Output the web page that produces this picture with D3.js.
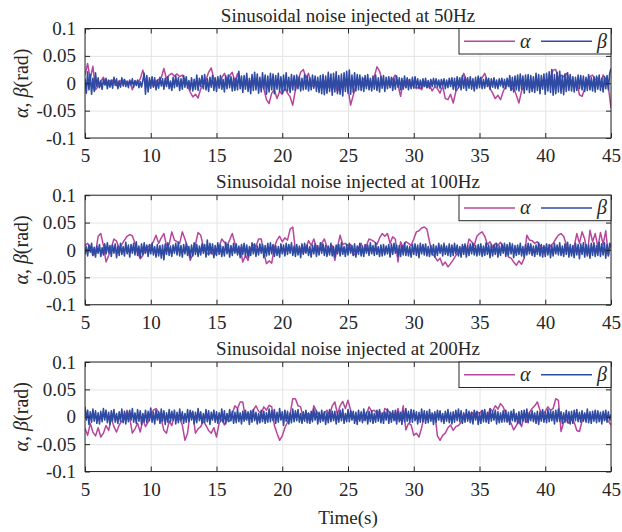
<!DOCTYPE html>
<html>
<head>
<meta charset="utf-8">
<script src="https://cdnjs.cloudflare.com/ajax/libs/d3/7.8.5/d3.min.js"></script>
<style>
body { margin: 0; background: #fff; }
text { font-family: "Liberation Serif", "Times New Roman", serif; fill: #262626; }
</style>
</head>
<body>
<svg id="viz" width="622" height="532"></svg>
<script>
// values, in mrad (0.001 rad)
var titles = ["Sinusoidal noise injected at 50Hz",
              "Sinusoidal noise injected at 100Hz",
              "Sinusoidal noise injected at 200Hz"];
var xTicks = [5, 10, 15, 20, 25, 30, 35, 40, 45];
var yTicks = [-0.1, -0.05, 0, 0.05, 0.1];
var yTickLabels = ["-0.1", "-0.05", "0", "0.05", "0.1"];
var seriesNames = ["\u03b1", "\u03b2"];

// alpha: one value every 0.2 s from 5 s to 45 s
var alpha50 = [
  15, 36, 8, 31, -12,   -6, 4, 11, -3, 6,   2, 8, -4, 5, 3,   6, -2, 4, -12, 3,
  1, 8, 24, 3, -4,   5, -6, 3, 7, 10,   27, 8, 15, 18, 13,   17, 12, 15, 6, -4,
  -16, -25, -20, -27, -10,   -3, 6, 20, 28, 8,   2, -4, 10, 18, 6,   14, 20, 3, 18, -2,
  -6, 3, -8, 4, -3,   5, -5, 2, -10, -30,   -37, -18, -12, -28, -15,   -20, -8, -18, -25, -40,
  -12, 5, 20, 25, 10,   18, -3, -6, 2, -5,   -8, 4, -10, -3, -12,   2, -15, -6, -8, 4,
  -10, -40, -22, -5, 6,   -3, 8, -6, 4, -8,   12, 30, 22, 6, -4,   3, -6, 8, 15, -3,
  -24, 4, -8, 6, -5,   -3, -10, -6, -12, 2,   -8, -4, -14, -6, -10,   -18, -5, -28, -30, -20,
  -36, -15, -8, 4, 18,   6, -4, 3, -6, 2,   8, 10, 18, 4, -10,   -18, -28, -22, -30, -15,
  -5, 2, -12, -8, -22,   -36, -14, -4, 3, -6,   -10, -3, 5, -8, 2,   6, -4, 10, 24, 25,
  8, 15, 12, 18, 10,   4, -8, 2, -21, -24,   -10, 5, 12, 15, 6,   10, -3, 15, 8, -6,
  -45
];
var alpha100 = [
  8, 12, 6, -10, -6,   25, 30, 8, -22, -10,   4, 20, 16, 3, 10,   18, 25, 28, 26, 12,
  -5, -16, -10, 2, 6,   8, 15, 27, 12, 22,   30, 8, 10, 33, 18,   15, 12, 33, 20, 5,
  -19, -8, 10, 32, 27,   6, -5, -8, -3, -10,   -4, 6, 20, 14, 8,   18, 30, 12, -6, 4,
  -22, -10, -19, 3, 10,   6, 20, 20, -5, -25,   -20, -24, 5, 18, 25,   15, 22, 18, 38, 42,
  0, -5, 3, -6, 4,   17, 8, 20, 5, -4,   12, 20, 6, -3, 8,   -19, 5, 27, 10, 12,
  8, 10, -10, -6, 4,   12, -3, 8, 20, 18,   15, 10, 22, 30, 25,   30, 12, 24, 20, -22,
  15, 5, 15, 12, 8,   20, 33, 35, 40, 42,   38, 15, -7, -12, -20,   -15, -28, -22, -31, -25,
  -18, -10, -5, 3, 6,   -2, 20, 15, 8, 25,   30, 33, 25, 10, 15,   5, 12, 8, 14, 6,
  3, -13, -15, -22, -28,   -20, -26, -15, 27, 18,   17, 12, 15, 8, 3,   5, -4, 8, 12, 20,
  27, 30, 25, 10, 2,   -5, 6, 30, 12, 33,   20, -8, 36, 15, 30,   5, 32, 10, 35, -10,
  12
];
var alpha200 = [
  -21, -34, -12, -28, -35,   -20, -37, -30, -16, -25,   -3, -18, -28, -15, -8,   -4, 12, -2, -30, -22,
  -12, -28, -5, -18, -10,   3, 12, 15, 8, -5,   -25, -30, -8, -16, 2,   -5, -3, -15, -43, -30,
  8, 5, -30, -22, -18,   -8, -16, -25, -30, -20,   -37, -12, -5, -15, -3,   -8, 5, 20, 15, 27,
  27, -4, 2, 6, 12,   20, 10, 6, 18, 12,   21, 18, -16, -30, -43,   -35, -20, -10, 5, 33,
  33, 20, 18, -4, 3,   6, -5, 20, 10, 2,   -3, 6, 12, 2, 20,   27, 5, 20, 28, 15,
  30, 12, 0, -7, -4,   3, -6, 5, 18, 10,   12, 6, 10, -3, 15,   12, 8, 3, -6, 15,
  -6, 20, -24, -12, -15,   -34, -30, -37, -20, 2,   -5, 3, -2, 6, -35,   -43, -34, -30, -20, -15,
  -25, -18, -16, -10, 2,   5, -4, 8, 3, 9,   6, 12, 3, -2, 15,   10, 20, 14, 24, 18,
  6, -6, -12, -24, -16,   -8, -18, 4, -10, 8,   15, 20, 27, 12, 5,   10, 18, 12, 15, 33,
  30, -27, -10, -5, -12,   -4, -10, -25, -27, -8,   3, 5, -5, 2, -3,   4, -2, 3, -5, -8,
  -15
];

// beta: one value every 0.1 s from 5 s to 45 s
var beta50 = [
  8, -18, 21, -12, 16, -20, 9, -15, 19, -6,   10, -8, 4, -11, 7, -3, 9, -10, 5, -7,
  6, -9, 11, -4, 8, -10, 3, -7, 10, -5,   7, -6, 4, -8, 6, -3, 8, -7, 5, -4,
  6, -8, 3, -7, 5, 18, -20, 14, -16, 10,   -9, 12, -7, 10, -12, 6, -9, 11, -5, 8,
  -11, 9, -6, 12, -10, 4, -13, 11, -8, 13,   -6, 10, -13, 8, -11, 14, -7, 12, -9, 5,
  -12, 10, -14, 7, -11, 15, -13, 9, -6, 14,   -10, 16, -12, 8, -15, 11, -7, 14, -13, 10,
  -15, 12, -9, 14, -11, 7, -16, 13, -10, 15,   -8, 12, -14, 10, -13, 9, -12, 22, -10, 13,
  -17, 14, -11, 18, -15, 9, -19, 16, -13, 20,   -12, 17, -18, 11, -16, 19, -10, 15, -20, 13,
  -16, 18, -12, 17, -19, 14, -11, 18, -15, 12,   -18, 15, -13, 19, -14, 11, -17, 16, -12, 14,
  -13, 15, -10, 12, -14, 9, -12, 16, -11, 13,   -14, 10, -12, 15, -9, 13, -15, 11, -17, 14,
  -19, 16, -21, 13, -18, 20, -15, 17, -22, 18,   -16, 21, -19, 14, -20, 17, -23, 19, -15, 22,
  -18, 24, -20, 15, -17, 19, -14, 16, -12, 15,   -13, 11, -15, 14, -10, 16, -12, 9, -14, 13,
  -11, 15, -13, 10, -16, 12, -9, 14, -15, 11,   -10, 12, -8, 11, -13, 9, -11, 13, -7, 10,
  -12, 9, -11, 13, -8, 10, -12, 7, -10, 11,   -9, 12, -7, 8, -10, 6, -9, 8, -6, 9,
  -8, 5, -9, 7, -6, 9, -5, 8, -7, 6,   -9, 7, -5, 8, -10, 6, -8, 9, -6, 10,
  -11, 9, -13, 12, -8, 10, -12, 14, -9, 11,   -13, 10, -9, 12, -11, 8, -14, 11, -10, 13,
  -8, 11, -10, 7, -9, 10, -6, 9, -11, 8,   -7, 10, -9, 6, -10, 8, -5, 9, -8, 7,
  -10, 9, -6, 14, -13, 11, -16, 13, -12, 15,   -14, 17, -11, 13, -18, 15, -12, 16, -17, 14,
  -15, 12, -17, 18, -13, 16, -19, 14, -11, 17,   -20, 18, -14, 21, -17, 25, -22, 16, -19, 20,
  -16, 22, -18, 14, -21, 17, -15, 19, -13, 16,   -14, 12, -16, 11, -13, 15, -10, 14, -12, 13,
  -15, 11, -13, 16, -12, 10, -14, 12, -16, 13,   -11, 15, -13, 9, -16, 12, -10, 14, -12, 18,
  27
];
var beta100 = [
  -8, 6, -11, 9, -4, 12, -10, 5, -13, 7,   -6, 10, -12, 4, -9, 11, -7, 13, -5, 8,
  -12, 9, -6, 11, -14, 7, -10, 12, -8, 6,   -11, 14, -7, 9, -13, 10, -6, 12, -9, 15,
  -10, 7, -14, 11, -8, 13, -6, 9, -12, 10,   -7, 12, -9, 6, -13, 10, -11, 8, -15, 9,
  -18, 11, -8, 13, -10, 7, -12, 9, -6, 12,   -9, 14, -11, 8, -13, 10, -7, 12, -10, 6,
  -14, 9, -11, 13, -8, 10, -12, 7, -9, 11,   -6, 10, -13, 18, -9, 12, -7, 11, -14, 8,
  -10, 13, -8, 9, -12, 6, -11, 14, -7, 10,   -13, 8, -10, 12, -6, 11, -9, 7, -14, 10,
  -8, 12, -11, 9, -13, 6, -10, 13, -7, 11,   -12, 7, -9, 11, -6, 10, -14, 8, -11, 12,
  -9, 13, -7, 10, -12, 8, -10, 6, -13, 11,   -7, 9, -11, 12, -8, 10, -6, 13, -10, 7,
  -12, 10, -9, 7, -14, 11, -8, 12, -6, 9,   -10, 6, -13, 9, -7, 11, -12, 8, -9, 13,
  -6, 11, -10, 8, -12, 7, -9, 12, -11, 6,   -13, 9, -7, 10, -11, 13, -8, 6, -12, 10,
  -9, 12, -6, 8, -10, 11, -13, 7, -8, 12,   -11, 7, -12, 10, -6, 9, -10, 13, -7, 8,
  -10, 13, -8, 6, -12, 9, -11, 10, -9, 7,   -7, 10, -13, 11, -8, 12, -6, 9, -12, 8,
  -12, 8, -9, 13, -10, 7, -11, 6, -13, 10,   -8, 11, -10, 9, -14, 12, -7, 10, -9, 11,
  -11, 6, -12, 8, -9, 10, -13, 7, -10, 12,   -6, 9, -11, 12, -8, 7, -10, 11, -12, 9,
  -10, 12, -7, 9, -11, 6, -13, 10, -8, 11,   -13, 8, -10, 11, -7, 12, -9, 8, -11, 10,
  -9, 11, -12, 7, -10, 13, -8, 9, -14, 10,   -11, 9, -8, 12, -13, 7, -10, 11, -6, 12,
  -12, 10, -9, 13, -7, 11, -14, 8, -10, 9,   -8, 12, -11, 6, -13, 10, -9, 12, -7, 11,
  -10, 7, -12, 9, -8, 13, -11, 10, -13, 8,   -12, 11, -9, 10, -14, 8, -11, 12, -7, 9,
  -9, 13, -10, 7, -12, 11, -8, 14, -13, 10,   -11, 8, -14, 12, -9, 10, -16, 11, -8, 13,
  -13, 10, -11, 9, -15, 12, -10, 13, -12, 8,   -10, 14, -12, 11, -9, 13, -15, 10, -11, 12,
  6
];
var beta200 = [
  18, -6, 12, -14, 9, -10, 14, -8, 11, -12,   7, -13, 10, -9, 15, -6, 12, -11, 8, -14,
  11, -7, 13, -10, 6, -12, 9, -8, 14, -11,   10, -13, 8, -9, 12, -6, 15, -10, 7, -12,
  13, -8, 11, -14, 6, -9, 12, -11, 10, -7,   16, -10, 8, -13, 12, -6, 9, -12, 14, -8,
  11, -14, 7, -10, 13, -9, 10, -6, 12, -13,   8, -11, 14, -7, 9, -12, 6, -10, 13, -9,
  12, -6, 10, -13, 8, -11, 15, -7, 9, -12,   6, -10, 13, -9, 11, -14, 8, -6, 12, -10,
  9, -12, 7, -8, 14, -10, 11, -13, 6, -9,   13, -7, 10, -12, 8, -11, 14, -9, 7, -13,
  10, -8, 12, -6, 9, -14, 11, -10, 13, -7,   8, -13, 6, -11, 12, -9, 10, -12, 7, -10,
  14, -9, 11, -7, 13, -12, 8, -10, 15, -6,   9, -16, 12, -8, 10, -13, 7, -11, 14, -9,
  11, -7, 13, -10, 6, -12, 9, -8, 12, -11,   7, -12, 10, -9, 14, -6, 11, -13, 8, -10,
  12, -8, 9, -14, 7, -11, 13, -9, 10, -7,   10, -13, 8, -10, 12, -7, 14, -12, 6, -9,
  13, -9, 11, -6, 10, -12, 8, -14, 12, -8,   9, -11, 14, -7, 8, -13, 10, -9, 11, -12,
  6, -10, 12, -8, 13, -11, 7, -12, 9, -6,   14, -12, 8, -10, 11, -7, 12, -13, 10, -9,
  8, -14, 11, -9, 15, -8, 10, -11, 13, -10,   12, -7, 9, -13, 8, -10, 14, -9, 11, -12,
  10, -11, 13, -8, 7, -14, 9, -10, 12, -6,   11, -9, 6, -12, 10, -8, 13, -11, 8, -13,
  9, -10, 12, -7, 14, -9, 11, -12, 7, -10,   13, -8, 10, -11, 8, -13, 12, -6, 10, -14,
  7, -12, 11, -9, 13, -10, 8, -12, 14, -8,   10, -6, 12, -13, 9, -11, 7, -10, 11, -9,
  12, -10, 8, -14, 10, -7, 13, -9, 6, -12,   9, -13, 11, -8, 12, -10, 14, -11, 8, -7,
  11, -9, 7, -12, 10, -14, 9, -8, 13, -10,   8, -11, 13, -9, 11, -7, 10, -13, 12, -9,
  14, -8, 9, -12, 7, -10, 12, -11, 9, -13,   10, -12, 12, -7, 13, -9, 8, -10, 11, -8,
  7, -10, 14, -11, 9, -12, 10, -8, 12, -11,   11, -9, 8, -13, 10, -7, 12, -10, 9, -6,
  4
];

var panels = [
  { title: titles[0], alpha: alpha50, beta: beta50 },
  { title: titles[1], alpha: alpha100, beta: beta100 },
  { title: titles[2], alpha: alpha200, beta: beta200 }
];
var colors = ["#b8459d", "#2f4aa3"];

var svg = d3.select("#viz");
var margin = { left: 85, right: 11 };
var w = 622 - margin.left - margin.right,
    h = 109.5;
var panelTop = [28.5, 195.2, 362];

var xScale = d3.scaleLinear().domain([5, 45]).range([0, w]);
var yScale = d3.scaleLinear().domain([-0.1, 0.1]).range([h, 0]);

var line = d3.line()
    .x(function (d) { return xScale(d.t); })
    .y(function (d) { return yScale(d.v / 1000); });

function toPoints(vals, step) {
    return vals.map(function (v, i) { return { t: 5 + i * step, v: v }; });
}

panels.forEach(function (p, k) {
    var g = svg.append("g")
        .attr("transform", "translate(" + margin.left + "," + panelTop[k] + ")");

    g.append("defs").append("clipPath").attr("id", "clip" + k)
        .append("rect").attr("width", w).attr("height", h);

    // GRID
    g.append("g").attr("class", "grid")
        .attr("transform", "translate(0," + h + ")")
        .call(d3.axisBottom(xScale).tickValues(xTicks).tickSize(-h).tickFormat(""));
    g.append("g").attr("class", "grid")
        .call(d3.axisLeft(yScale).tickValues(yTicks).tickSize(-w).tickFormat(""));
    g.selectAll(".grid .domain").remove();
    g.selectAll(".grid line").attr("stroke", "#e4e4e4").attr("stroke-width", 1);

    // LINES (alpha first, beta on top)
    var lines = g.append("g").attr("clip-path", "url(#clip" + k + ")");
    lines.append("path")
        .datum(toPoints(p.alpha, 0.2))
        .attr("d", line)
        .attr("fill", "none")
        .attr("stroke", colors[0])
        .attr("stroke-width", 1.5)
        .attr("stroke-linejoin", "round");
    lines.append("path")
        .datum(toPoints(p.beta, 0.1))
        .attr("d", line)
        .attr("fill", "none")
        .attr("stroke", colors[1])
        .attr("stroke-width", 1.6)
        .attr("stroke-linejoin", "round");

    // AXES, ticks pointing inward
    g.append("g").attr("class", "axis")
        .attr("transform", "translate(0," + h + ")")
        .call(d3.axisBottom(xScale).tickValues(xTicks).tickSize(-5).tickPadding(11)
            .tickFormat(d3.format("d")));
    g.append("g").attr("class", "axis")
        .call(d3.axisTop(xScale).tickValues(xTicks).tickSize(-5).tickFormat(""));
    g.append("g").attr("class", "axis")
        .call(d3.axisLeft(yScale).tickValues(yTicks).tickSize(-5).tickPadding(9)
            .tickFormat(function (d, i) { return yTickLabels[i]; }));
    g.append("g").attr("class", "axis")
        .attr("transform", "translate(" + w + ",0)")
        .call(d3.axisRight(yScale).tickValues(yTicks).tickSize(-5).tickFormat(""));
    g.selectAll(".axis").attr("font-family", null).attr("font-size", null);
    g.selectAll(".axis .domain").remove();
    g.selectAll(".axis line").attr("stroke", "#262626");
    g.selectAll(".axis text")
        .attr("fill", "#262626")
        .style("font-family", "'Liberation Serif', serif")
        .style("font-size", "19px");
    g.append("rect")
        .attr("width", w).attr("height", h)
        .attr("fill", "none")
        .attr("stroke", "#262626")
        .attr("stroke-width", 1);

    // TITLE
    g.append("text")
        .attr("x", w / 2).attr("y", -7)
        .attr("text-anchor", "middle")
        .style("font-size", "19px")
        .text(p.title);

    // Y LABEL
    var yl = g.append("text")
        .attr("transform", "translate(-57," + (h / 2) + ") rotate(-90)")
        .attr("text-anchor", "middle")
        .style("font-size", "20px");
    yl.append("tspan").style("font-style", "italic").text("\u03b1");
    yl.append("tspan").text(", ");
    yl.append("tspan").style("font-style", "italic").text("\u03b2");
    yl.append("tspan").text("(rad)");

    // LEGEND
    var lw = 152, lh = 25.5;
    var leg = g.append("g").attr("transform", "translate(" + (w - lw) + ",0)");
    leg.append("rect")
        .attr("width", lw).attr("height", lh)
        .attr("fill", "#fff")
        .attr("stroke", "#262626")
        .attr("stroke-width", 1);
    seriesNames.forEach(function (name, i) {
        var x0 = 5 + i * 77;
        leg.append("line")
            .attr("x1", x0).attr("x2", x0 + 51)
            .attr("y1", lh / 2).attr("y2", lh / 2)
            .attr("stroke", colors[i])
            .attr("stroke-width", 1.6);
        leg.append("text")
            .attr("x", x0 + 56).attr("y", lh / 2)
            .attr("dy", "0.32em")
            .style("font-style", "italic")
            .style("font-size", "20px")
            .text(name);
    });
});

// X LABEL
svg.append("text")
    .attr("x", margin.left + w / 2)
    .attr("y", 524)
    .attr("text-anchor", "middle")
    .style("font-size", "19px")
    .text("Time(s)");
</script>
</body>
</html>
